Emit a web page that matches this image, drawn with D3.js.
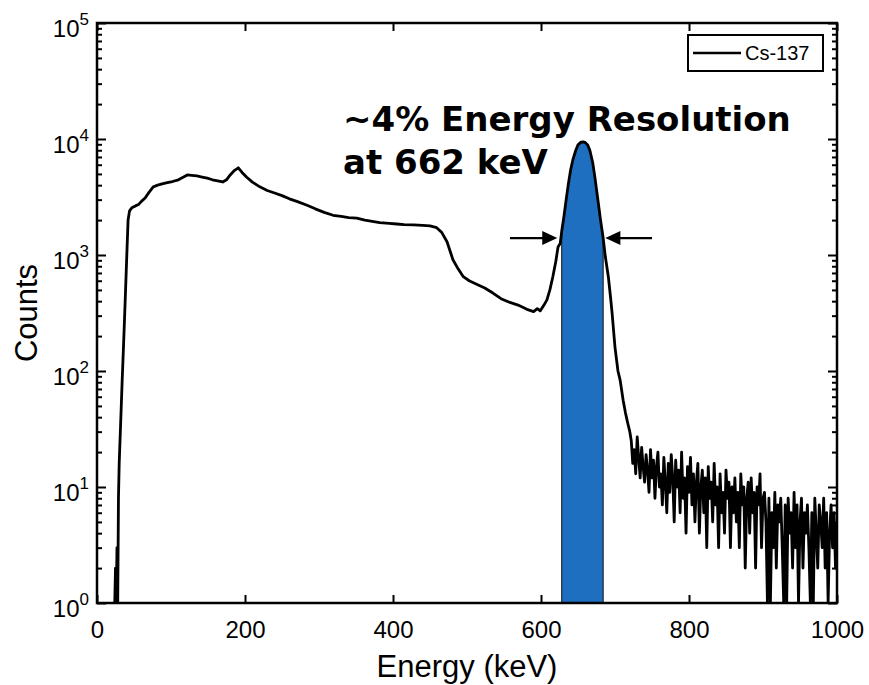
<!DOCTYPE html>
<html>
<head>
<meta charset="utf-8">
<script src="https://cdn.jsdelivr.net/npm/d3@7"></script>
<style>
  body { margin: 0; background: #fff; }
  svg { display: block; }
</style>
</head>
<body>
<div id="chart"></div>
<script>
// Cs-137 spectrum, counts
const contEnergy = [24,25,26,27,28,29,30,32,34,36,38,40,42,44,47,52,56,60,65,70,76,82,88,95,
  102,110,117,122,128,135,142,149,156,163,170,175,180,185,191,196,202,210,220,230,240,250,260,270,
  283,295,307,319,330,340,351,362,372,382,395,405,415,428,440,450,459,466,473,481,488,495,503,513,
  524,535,546,558,569,581,590,595,599,604,608,612,616,620,623,626];
const contCounts = [1,2,1,3,1,8,16,36,82,175,390,890,2000,2400,2550,2650,2720,2900,3100,3450,3870,4000,4100,4200,
  4300,4450,4700,4900,4850,4800,4700,4600,4450,4350,4260,4450,4900,5300,5650,5150,4700,4250,3870,3600,3420,3250,3050,2900,
  2700,2500,2330,2200,2150,2100,2080,2000,1950,1900,1870,1850,1830,1820,1800,1780,1720,1560,1300,910,760,650,600,560,
  520,470,420,390,370,340,325,345,330,370,410,500,650,880,1170,1260];

const peakEnergy = [628,631,634,637,640,643,647,650,654,657,660,663,666,670,673,677,680,684,687,691,694,696,700,704,707,711,714,717,720];
const peakCounts = [1600,2150,3000,4100,5400,6600,8000,8900,9400,9450,9300,8900,8000,6200,4600,2950,2100,1400,960,650,430,320,160,100,83,56,44,36,30];

const tailEnergy = [722,724,726,728,730,732,734,736,738,740, 742,744,746,748,750,752,754,756,758,760,
  762,764,766,768,770,772,774,776,778,780, 782,784,786,788,790,792,794,796,798,800,
  802,804,806,808,810,812,814,816,818,820, 822,824,826,828,830,832,834,836,838,840,
  842,844,846,848,850,852,854,856,858,860, 862,864,866,868,870,872,874,876,878,880,
  882,884,886,888,890,892,894,896,898,900, 902,904,906,908,910,912,914,916,918,920,
  922,924,926,928,930,932,934,936,938,940, 942,944,946,948,950,952,954,956,958,960,
  962,964,966,968,970,972,974,976,978,980, 982,984,986,988,990,992,994,996,998,1000];
const tailCounts = [25,16,21,13,27,18,12,22,15,11, 19,14,9,21,12,17,8,15,20,10,
  13,7,18,11,6,16,9,19,12,5, 17,10,14,6,20,8,12,4,15,9,
  18,7,13,5,11,16,4,10,14,6, 12,3,15,8,11,5,16,7,10,3,
  13,6,9,4,14,8,11,3,10,6, 12,5,9,3,13,7,10,2,8,11,
  4,12,6,9,2,10,7,13,3,8, 9,5,1,8,1,6,3,9,2,7,
  5,8,3,1,7,1,8,4,6,2, 9,3,7,1,5,8,2,6,4,7,
  3,1,6,1,8,4,2,7,5,3, 8,2,6,1,4,7,3,6,2,5];

// shaded FWHM band (keV)
const fwhmBand = [628, 684];
const xTicks = [0, 200, 400, 600, 800, 1000];
const yDecades = [1, 10, 100, 1000, 10000, 100000];
const seriesName = "Cs-137";

const width = 869, height = 685;
const margin = {top: 23, right: 32, bottom: 82, left: 97};
const axisFont = "'Liberation Sans', Arial, Helvetica, sans-serif";

const spectrum = [
  ...contEnergy.map((e, i) => ({e: e, c: contCounts[i]})),
  ...peakEnergy.map((e, i) => ({e: e, c: peakCounts[i]})),
  ...tailEnergy.map((e, i) => ({e: e, c: tailCounts[i]}))
];

const svg = d3.select("#chart").append("svg")
  .attr("width", width)
  .attr("height", height)
  .style("background-color", "white");

const x = d3.scaleLinear().domain([0, 1000]).range([margin.left, width - margin.right]);
const y = d3.scaleLog().domain([1, 1e5]).range([height - margin.bottom, margin.top]);

svg.append("clipPath").attr("id", "plot-clip")
  .append("rect")
  .attr("x", margin.left).attr("y", margin.top)
  .attr("width", width - margin.left - margin.right)
  .attr("height", height - margin.top - margin.bottom);

// blue band under the photopeak
const band = spectrum.filter(d => d.e >= fwhmBand[0] && d.e <= fwhmBand[1]);
svg.append("path")
  .datum(band)
  .attr("d", d3.area().x(d => x(d.e)).y0(y(1)).y1(d => y(d.c)))
  .attr("fill", "#1f6fc0")
  .attr("stroke", "#111")
  .attr("stroke-width", 1);

svg.append("path")
  .datum(spectrum)
  .attr("clip-path", "url(#plot-clip)")
  .attr("d", d3.line().x(d => x(d.e)).y(d => y(Math.max(d.c, 1))))
  .attr("fill", "none")
  .attr("stroke", "black")
  .attr("stroke-width", 2.8)
  .attr("stroke-linejoin", "round");

// axes, ticks pointing inward like matlab
const minorTicks = y.ticks().filter(v => !yDecades.includes(v));

function styleAxis(g) {
  g.select(".domain").remove();
  g.selectAll(".tick line").attr("stroke", "black").attr("stroke-width", 2);
}

svg.append("g")
  .attr("transform", `translate(0,${height - margin.bottom})`)
  .call(d3.axisBottom(x).tickValues(xTicks).tickFormat(d3.format("d"))
    .tickSizeInner(-8).tickSizeOuter(0).tickPadding(18))
  .call(styleAxis)
  .call(g => g.selectAll("text").attr("font-family", axisFont).attr("font-size", 24).attr("fill", "black"));

svg.append("g")
  .attr("transform", `translate(0,${margin.top})`)
  .call(d3.axisTop(x).tickValues(xTicks).tickSizeInner(-8).tickSizeOuter(0).tickFormat(""))
  .call(styleAxis);

[[d3.axisLeft, margin.left], [d3.axisRight, width - margin.right]].forEach(([axisFn, pos]) => {
  svg.append("g")
    .attr("transform", `translate(${pos},0)`)
    .call(axisFn(y).tickValues(minorTicks).tickSizeInner(-5).tickSizeOuter(0).tickFormat(""))
    .call(styleAxis);
  svg.append("g")
    .attr("transform", `translate(${pos},0)`)
    .call(axisFn(y).tickValues(yDecades).tickSizeInner(-9).tickSizeOuter(0).tickFormat(""))
    .call(styleAxis);
});

// decade labels 10^n
svg.append("g").selectAll("text.ylab")
  .data(yDecades).enter()
  .append("text")
  .attr("class", "ylab")
  .attr("x", margin.left - 8)
  .attr("y", d => y(d) + 14)
  .attr("text-anchor", "end")
  .attr("font-family", axisFont)
  .attr("font-size", 24)
  .each(function(d) {
    const t = d3.select(this);
    t.append("tspan").text("10");
    t.append("tspan").attr("dy", -12).attr("font-size", 17).text(Math.round(Math.log10(d)));
  });

svg.append("text")
  .attr("x", (margin.left + width - margin.right) / 2)
  .attr("y", 677)
  .attr("text-anchor", "middle")
  .attr("font-family", axisFont)
  .attr("font-size", 31)
  .text("Energy (keV)");

svg.append("text")
  .attr("transform", `translate(37,${(margin.top + height - margin.bottom) / 2}) rotate(-90)`)
  .attr("text-anchor", "middle")
  .attr("font-family", axisFont)
  .attr("font-size", 31)
  .text("Counts");

// FWHM arrows
const arrows = [{from: 558, to: 622}, {from: 750, to: 687}];
const arrowY = y(1400);
arrows.forEach(a => {
  const x0 = x(a.from), x1 = x(a.to);
  const dir = x1 > x0 ? 1 : -1;
  svg.append("line")
    .attr("x1", x0).attr("y1", arrowY)
    .attr("x2", x1 - dir * 10).attr("y2", arrowY)
    .attr("stroke", "black").attr("stroke-width", 2.2);
  svg.append("path")
    .attr("d", `M${x1},${arrowY} L${x1 - dir * 15},${arrowY - 7} L${x1 - dir * 15},${arrowY + 7} Z`)
    .attr("fill", "black");
});

svg.append("text")
  .attr("x", 343)
  .attr("y", 131)
  .attr("font-family", "'DejaVu Sans', Verdana, sans-serif")
  .attr("font-weight", "bold")
  .attr("font-size", 34)
  .text("~4% Energy Resolution");

svg.append("text")
  .attr("x", 343)
  .attr("y", 174)
  .attr("font-family", "'DejaVu Sans', Verdana, sans-serif")
  .attr("font-weight", "bold")
  .attr("font-size", 34)
  .text("at 662 keV");

// legend
const legend = svg.append("g");
legend.append("rect")
  .attr("x", 688).attr("y", 35)
  .attr("width", 135).attr("height", 36)
  .attr("fill", "white").attr("stroke", "black").attr("stroke-width", 2);
legend.append("line")
  .attr("x1", 693).attr("x2", 741)
  .attr("y1", 53).attr("y2", 53)
  .attr("stroke", "black").attr("stroke-width", 2.5);
legend.append("text")
  .attr("x", 745).attr("y", 60)
  .attr("font-family", axisFont)
  .attr("font-size", 20)
  .text(seriesName);

// frame on top
svg.append("rect")
  .attr("x", margin.left).attr("y", margin.top)
  .attr("width", width - margin.left - margin.right)
  .attr("height", height - margin.top - margin.bottom)
  .attr("fill", "none")
  .attr("stroke", "black")
  .attr("stroke-width", 2.5);
</script>
</body>
</html>
